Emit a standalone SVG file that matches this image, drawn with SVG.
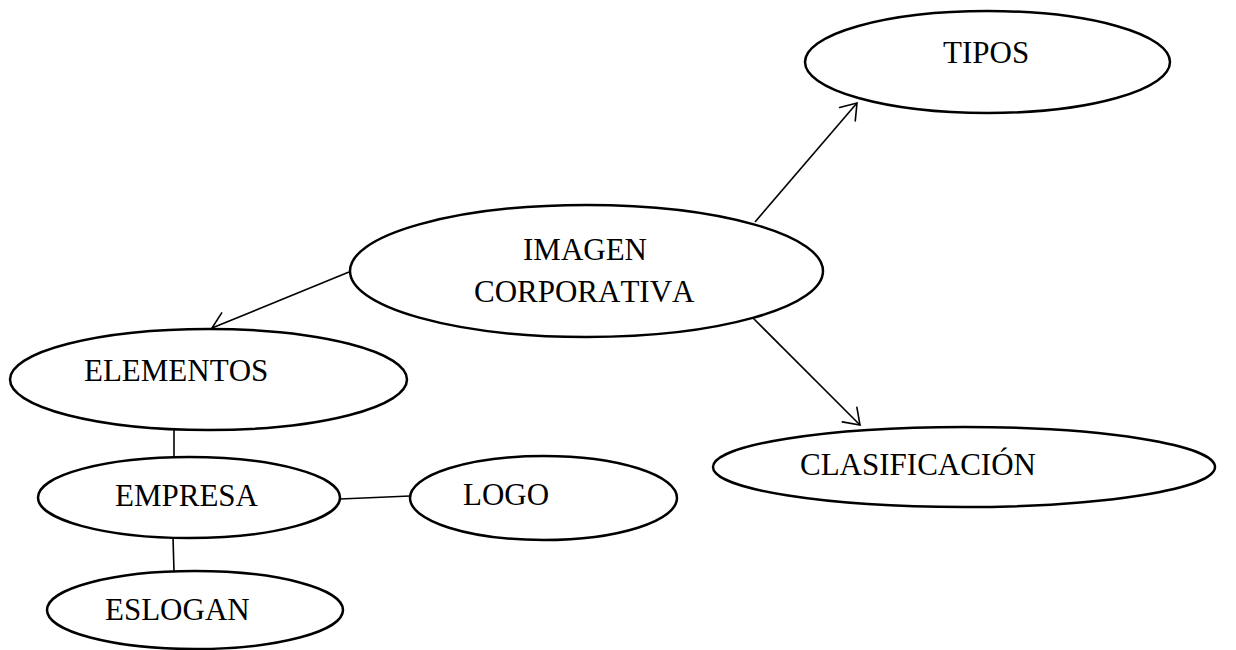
<svg xmlns="http://www.w3.org/2000/svg" width="1236" height="650" viewBox="0 0 1236 650">
  <defs>
    <marker id="open-arrow" markerUnits="userSpaceOnUse" markerWidth="24" markerHeight="24" viewBox="-18 -12 20 24" refX="0" refY="0" orient="auto">
      <path d="M -14.7 -10.3 L 0 0 L -14.7 10.3" fill="none" stroke="#000" stroke-width="1.6" stroke-linecap="round" stroke-linejoin="miter"/>
    </marker>
  </defs>
  <style>
    .node ellipse { fill: #fff; stroke: #000; stroke-width: 2.5; }
    .node text { font-family: "Liberation Serif", "Times New Roman", serif; font-size: 31px; fill: #000; font-kerning: none; font-feature-settings: "kern" 0; }
    .edge { stroke: #000; stroke-width: 1.6; fill: none; }
    .arrow { marker-end: url(#open-arrow); }
  </style>
  <rect width="1236" height="650" fill="#fff"/>

  <!-- links between concepts -->
  <g id="connectors">
    <line class="edge arrow" x1="755" y1="222" x2="857" y2="103"/>
    <line class="edge arrow" x1="753" y1="318" x2="860" y2="425"/>
    <line class="edge arrow" x1="349" y1="272" x2="212" y2="328"/>
    <line class="edge" x1="174" y1="430" x2="174" y2="457"/>
    <line class="edge" x1="340" y1="499" x2="410" y2="496"/>
    <line class="edge" x1="173" y1="538" x2="174" y2="571"/>
  </g>

  <g id="imagen-corporativa" class="node">
    <ellipse cx="586.5" cy="271" rx="236.5" ry="66"/>
    <text x="523" y="260">IMAGEN</text>
    <text x="474" y="302">CORPORATIVA</text>
  </g>

  <g id="tipos" class="node">
    <ellipse cx="987.5" cy="62" rx="182.5" ry="51"/>
    <text x="943" y="63">TIPOS</text>
  </g>

  <g id="clasificacion" class="node">
    <ellipse cx="964" cy="467" rx="251" ry="40"/>
    <text x="800" y="475">CLASIFICACIÓN</text>
  </g>

  <g id="elementos" class="node">
    <ellipse cx="208.5" cy="379.5" rx="198.5" ry="50.5"/>
    <text x="84" y="381">ELEMENTOS</text>
  </g>

  <g id="empresa" class="node">
    <ellipse cx="189" cy="497.5" rx="151" ry="40.5"/>
    <text x="115" y="506">EMPRESA</text>
  </g>

  <g id="logo" class="node">
    <ellipse cx="543.5" cy="498" rx="133.5" ry="42"/>
    <text x="463" y="505">LOGO</text>
  </g>

  <g id="eslogan" class="node">
    <ellipse cx="195" cy="610" rx="148" ry="39"/>
    <text x="105" y="620">ESLOGAN</text>
  </g>
</svg>
